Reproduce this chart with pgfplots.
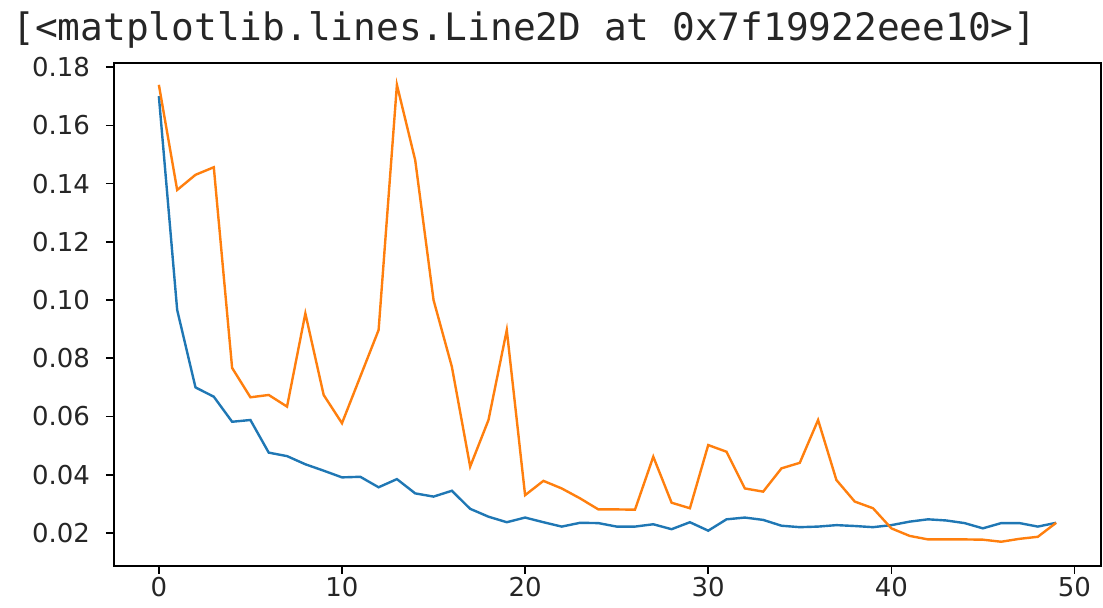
\documentclass[border=0pt]{standalone}
\usepackage{fontspec}
\setmainfont{DejaVu Sans}
\newfontfamily\monofont{DejaVu Sans Mono}
\usepackage{pgfplots}
\pgfplotsset{compat=1.18}
\usetikzlibrary{calc}
\definecolor{mplblue}{HTML}{1F77B4}
\definecolor{mplorange}{HTML}{FF7F0E}
\begin{document}
\begin{tikzpicture}
\begin{axis}[
  name=ax,
  scale only axis,
  width=493.5pt, height=251.5pt,
  xmin=-2.45, xmax=51.45,
  ymin=0.00867, ymax=0.1814,
  xtick={0,10,20,30,40,50},
  ytick={0.02,0.04,0.06,0.08,0.10,0.12,0.14,0.16,0.18},
  tick label style={font=\fontsize{13}{15}\selectfont, text=black!85},
  yticklabel style={xshift=-4.5pt, /pgf/number format/.cd, fixed, fixed zerofill, precision=2, assume math mode=true},
  xticklabel style={yshift=-0.5pt, inner ysep=1pt, /pgf/number format/assume math mode=true},
  tick align=outside,
  major tick length=4pt,
  tick style={line width=0.8pt, black},
  xtick pos=bottom, ytick pos=left,
  axis line style={line width=0.8pt},
  scaled y ticks=false,
  clip=true,
]
\addplot[mplblue, line width=1.2pt] coordinates {
(0,0.170) (1,0.0966) (2,0.0700) (3,0.0668) (4,0.0582) (5,0.0588) (6,0.0476) (7,0.0464) (8,0.0436) (9,0.0414)
(10,0.0391) (11,0.0393) (12,0.0357) (13,0.0385) (14,0.0336) (15,0.0325) (16,0.0345) (17,0.0283) (18,0.0256) (19,0.0237)
(20,0.0253) (21,0.0237) (22,0.0222) (23,0.0235) (24,0.0234) (25,0.0222) (26,0.0222) (27,0.0230) (28,0.0213) (29,0.0237)
(30,0.0208) (31,0.0247) (32,0.0253) (33,0.0245) (34,0.0225) (35,0.0220) (36,0.0222) (37,0.0227) (38,0.0224) (39,0.0220)
(40,0.0227) (41,0.0239) (42,0.0247) (43,0.0243) (44,0.0234) (45,0.0216) (46,0.0234) (47,0.0234) (48,0.0222) (49,0.0235)
};
\addplot[mplorange, line width=1.2pt] coordinates {
(0,0.1739) (1,0.1378) (2,0.1430) (3,0.1456) (4,0.0767) (5,0.0666) (6,0.0674) (7,0.0634) (8,0.0954) (9,0.0674)
(10,0.0577) (11,0.0737) (12,0.0897) (13,0.1739) (14,0.1480) (15,0.1000) (16,0.0771) (17,0.0428) (18,0.0588) (19,0.0897)
(20,0.0330) (21,0.0379) (22,0.0353) (23,0.0319) (24,0.0281) (25,0.0281) (26,0.0280) (27,0.0462) (28,0.0304) (29,0.0285)
(30,0.0502) (31,0.0479) (32,0.0353) (33,0.0342) (34,0.0422) (35,0.0441) (36,0.0588) (37,0.0382) (38,0.0308) (39,0.0285)
(40,0.0216) (41,0.0190) (42,0.0178) (43,0.0178) (44,0.0178) (45,0.0177) (46,0.0170) (47,0.0180) (48,0.0187) (49,0.0235)
};
\end{axis}
\node[anchor=north west, inner sep=0pt, text=black!85, font=\monofont\fontsize{18.9}{22}\selectfont]
  at ($(ax.north west)+(-51pt,26pt)$) {[<matplotlib.lines.Line2D at 0x7f19922eee10>]};
\pgfresetboundingbox
\path[use as bounding box] ($(ax.south west)+(-57pt,-21pt)$) rectangle ($(ax.north east)+(1pt,31.5pt)$);
\end{tikzpicture}
\end{document}
